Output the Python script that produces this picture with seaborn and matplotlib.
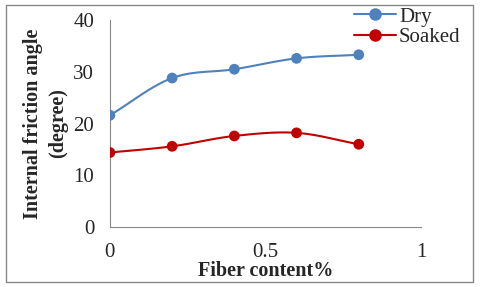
import numpy as np
import pandas as pd
import seaborn as sns
import matplotlib.pyplot as plt
from matplotlib.lines import Line2D
from matplotlib.patches import Rectangle

fiber = [0.0, 0.2, 0.4, 0.6, 0.8]
dry = [21.6, 28.8, 30.5, 32.6, 33.3]
soaked = [14.4, 15.6, 17.6, 18.2, 16.0]

colors = {'Dry': '#4F81BD', 'Soaked': '#C00000'}


def smooth(x, y, n=30):
    """Catmull-Rom curve through the points (like Excel smoothed line)"""
    x = np.asarray(x, float)
    y = np.asarray(y, float)
    px = np.r_[2 * x[0] - x[1], x, 2 * x[-1] - x[-2]]
    py = np.r_[2 * y[0] - y[1], y, 2 * y[-1] - y[-2]]
    xs, ys = [], []
    t = np.linspace(0, 1, n)
    for i in range(1, len(px) - 2):
        for p, out in ((px, xs), (py, ys)):
            p0, p1, p2, p3 = p[i - 1], p[i], p[i + 1], p[i + 2]
            out.extend(0.5 * (2 * p1 + (-p0 + p2) * t
                              + (2 * p0 - 5 * p1 + 4 * p2 - p3) * t ** 2
                              + (-p0 + 3 * p1 - 3 * p2 + p3) * t ** 3))
    return np.array(xs), np.array(ys)


sns.set_style('white')
plt.rcParams['font.family'] = ['Liberation Serif', 'DejaVu Serif']

fig = plt.figure(figsize=(4.8, 2.87), dpi=100)
ax = fig.add_axes([0.229, 0.209, 0.648, 0.721])

df = pd.DataFrame({'fiber': fiber * 2,
                   'angle': dry + soaked,
                   'series': ['Dry'] * 5 + ['Soaked'] * 5})

for name, vals in (('Dry', dry), ('Soaked', soaked)):
    sx, sy = smooth(fiber, vals)
    sns.lineplot(x=sx, y=sy, ax=ax, color=colors[name], lw=1.5, sort=False)

sns.scatterplot(data=df, x='fiber', y='angle', hue='series', palette=colors,
                s=60, edgecolor='none', ax=ax, legend=False, zorder=3)

ax.set_xlim(0, 1)
ax.set_ylim(0, 40)
ax.set_xticks([0, 0.5, 1])
ax.set_xticklabels(['0', '0.5', '1'])
ax.set_yticks([0, 10, 20, 30, 40])
ax.tick_params(axis='both', labelsize=15, length=4.3, width=0.8,
               color='#888888', direction='out')
ax.tick_params(axis='x', pad=7)
ax.tick_params(axis='y', pad=7)
for side in ['top', 'right']:
    ax.spines[side].set_visible(False)
for side in ['left', 'bottom']:
    ax.spines[side].set_color('#888888')
    ax.spines[side].set_linewidth(0.8)

ax.set_xlabel('Fiber content%', fontsize=14.5, fontweight='bold')
ax.set_ylabel('Internal friction angle\n(degree)', fontsize=14.5,
              fontweight='bold', linespacing=1.4)
ax.xaxis.set_label_coords(0.5, -0.165)
ax.yaxis.set_label_coords(-0.133, 0.5)

handles = [Line2D([], [], color=colors[k], marker='o', markersize=8, lw=1.5)
           for k in colors]
fig.legend(handles, list(colors), loc='upper left',
           bbox_to_anchor=(0.738, 0.975), frameon=False, fontsize=15,
           handlelength=2.0, handletextpad=0.15, labelspacing=0.05,
           borderpad=0, borderaxespad=0)

fig.patches.append(Rectangle((0.0125, 0.017), 0.9725, 0.966,
                             transform=fig.transFigure, fill=False,
                             edgecolor='#888888', lw=1))

fig.savefig('out.png', dpi=100)
